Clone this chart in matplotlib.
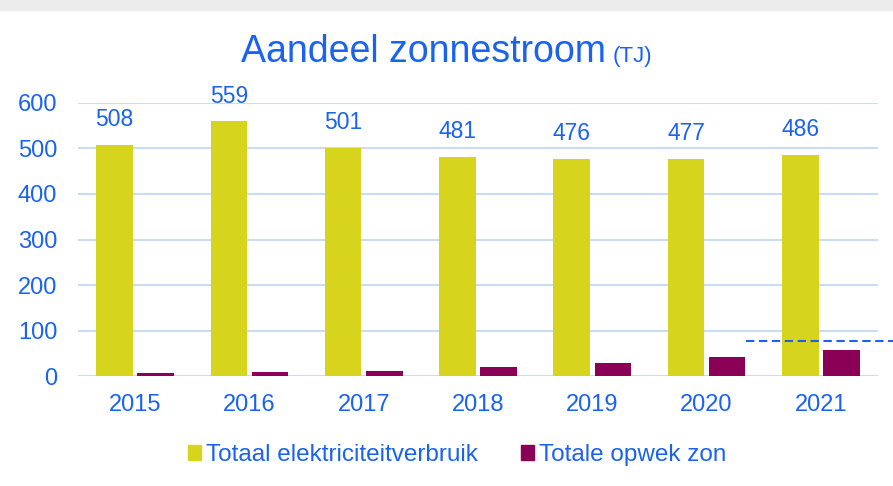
import matplotlib.pyplot as plt
import numpy as np
from matplotlib.patches import Patch, Rectangle

plt.rcParams['font.family'] = ['Liberation Sans', 'DejaVu Sans']

# data (TJ)
years = ['2015', '2016', '2017', '2018', '2019', '2020', '2021']
verbruik = [508, 559, 501, 481, 476, 477, 486]
opwek_zon = [7, 9, 12, 20, 29, 43, 58]
doel = 78

blue = '#1a62f0'
yellow = '#d6d41c'
purple = '#8b0057'
grid = '#c9dbf5'

fig = plt.figure(figsize=(8.93, 4.86), dpi=100)
fig.patches.append(Rectangle((0, 1 - 10 / 486), 1, 10 / 486, transform=fig.transFigure,
                             color='#ebebeb', zorder=0))

ax = fig.add_axes([78 / 893, 1 - 376.3 / 486, 800 / 893, 273.6 / 486])
x = np.arange(len(years))
w = 0.32
b1 = ax.bar(x - 0.18, verbruik, w, color=yellow, zorder=3)
b2 = ax.bar(x + 0.18, opwek_zon, w, color=purple, zorder=3)

for rect, v in zip(b1, verbruik):
    ax.annotate(str(v), (rect.get_x() + rect.get_width() / 2, v), xytext=(0, 10),
                textcoords='offset points', ha='center', va='bottom',
                fontsize=16.5, color=blue)

ax.axhline(doel, xmin=(746 - 78) / 800, xmax=(893 - 78) / 800, color=blue, lw=1.5,
           ls=(0, (4, 2.2)), clip_on=False, zorder=4)

ax.set_xlim(-0.5, len(years) - 0.5)
ax.set_ylim(0, 600)
ax.set_yticks(range(0, 601, 100))
ax.set_xticks(x)
ax.set_xticklabels(years)
ax.tick_params(axis='both', length=0, labelsize=17, labelcolor=blue)
ax.tick_params(axis='x', pad=13)
ax.tick_params(axis='y', pad=15)
ax.grid(axis='y', color=grid, lw=1.5, zorder=0)
ax.set_axisbelow(True)
for s in ax.spines.values():
    s.set_visible(False)

fig.text(606 / 893, 1 - 62 / 486, 'Aandeel zonnestroom', ha='right', va='baseline',
         fontsize=27, color=blue)
fig.text(613 / 893, 1 - 62 / 486, '(TJ)', ha='left', va='baseline', fontsize=16, color=blue)

handles = [Patch(color=yellow), Patch(color=purple)]
fig.legend(handles, ['Totaal elektriciteitverbruik', 'Totale opwek zon'], loc='center',
           bbox_to_anchor=(457 / 893, 1 - 455 / 486), ncol=2, frameon=False,
           fontsize=17.5, labelcolor=blue, handlelength=0.55, handleheight=0.55,
           handletextpad=0.2, columnspacing=1.75)

fig.savefig('out.png', dpi=100)
